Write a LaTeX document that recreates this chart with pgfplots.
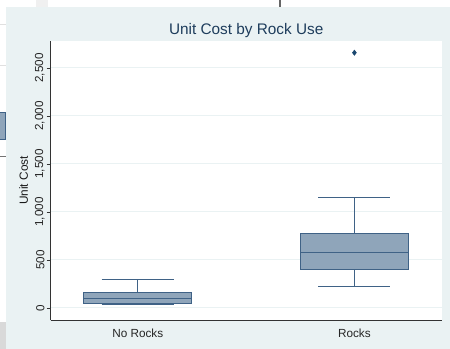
\documentclass[border=0pt]{standalone}
\usepackage{pgfplots}
\pgfplotsset{compat=1.18}
\usepackage{fontspec}
\setmainfont{Liberation Sans}

\definecolor{stbg}{HTML}{EAF2F3}
\definecolor{stgrid}{HTML}{EAF2F3}
\definecolor{stnavy}{HTML}{1A476F}
\definecolor{boxfill}{HTML}{8FA5BA}
\definecolor{boxedge}{HTML}{3F6286}
\definecolor{titlecol}{HTML}{1E3D5C}

% box plot summaries: position, lower whisker, lower quartile, median, upper quartile, upper whisker
% No Rocks: 1, 38, 49, 104, 160, 295
% Rocks:    2, 219, 396, 576, 771, 1156   (outlier at 2659)

\begin{document}
\begin{tikzpicture}
\useasboundingbox (0bp,0bp) rectangle (450bp,349bp);
% window backdrop behind the graph region
\fill[white] (0bp,0bp) rectangle (450bp,349bp);
\fill[black!15] (0bp,0bp) rectangle (6bp,27.3bp);
\fill[black!6] (36bp,342bp) rectangle (48bp,349bp);
\draw[black!60, line width=1.5bp] (280bp,342bp) -- (280bp,349bp);
\draw[black!12] (0bp,325bp) -- (6bp,325bp);
\draw[black!12] (0bp,284bp) -- (6bp,284bp);
\fill[boxfill, draw=boxedge] (-1bp,210bp) rectangle (5bp,237bp);
\draw[black!55, line width=1bp] (0bp,192.3bp) -- (6bp,192.3bp);
% graph region
\fill[stbg] (6bp,0bp) rectangle (450bp,342.3bp);

\begin{axis}[
  at={(50.7bp,29bp)}, anchor=south west,
  scale only axis, width=391bp, height=279bp,
  xmin=0.598, xmax=2.403, ymin=-125, ymax=2781,
  axis x line*=bottom, axis y line*=left,
  axis line style={black!80, line width=0.8bp, -},
  axis background/.style={fill=white},
  xtick={1,2}, xticklabels={No Rocks, Rocks},
  xtick style={draw=none},
  ytick={0,500,1000,1500,2000,2500},
  ytick style={black!80, line width=0.7bp},
  tick align=outside, major tick length=4bp,
  ymajorgrids, grid style={stgrid, line width=1bp},
  scaled y ticks=false,
  /pgf/number format/1000 sep={,},
  /pgf/number format/assume math mode=true,
  yticklabel style={rotate=90, anchor=south, font=\fontsize{11.7}{13}\selectfont, color=black!85, inner sep=2bp},
  xticklabel style={font=\fontsize{11.8}{13}\selectfont, color=black!85, anchor=north, yshift=-1.5bp},
  ylabel={Unit Cost},
  every axis y label/.style={at={(axis description cs:-0.069,0.5)}, rotate=90, anchor=center, font=\fontsize{11.9}{13}\selectfont, color=black!90},
  title={Unit Cost by Rock Use},
  every axis title/.style={at={(axis description cs:0.5,1)}, anchor=base, yshift=6bp, font=\fontsize{15.4}{18}\selectfont, color=titlecol},
  clip=false,
  box/.style={draw=boxedge, fill=boxfill, line width=1bp},
  wsk/.style={draw=boxedge, line width=1bp, no marks},
]
% ---- No Rocks ----
\addplot[wsk] coordinates {(1,160) (1,295)};
\addplot[wsk] coordinates {(1,49) (1,38)};
\addplot[wsk] coordinates {(0.8335,295) (1.1665,295)};
\addplot[wsk] coordinates {(0.8335,38) (1.1665,38)};
\addplot[box] coordinates {(0.75,49) (1.25,49) (1.25,160) (0.75,160)} -- cycle;
\addplot[wsk] coordinates {(0.75,104) (1.25,104)};
% ---- Rocks ----
\addplot[wsk] coordinates {(2,771) (2,1156)};
\addplot[wsk] coordinates {(2,396) (2,219)};
\addplot[wsk] coordinates {(1.8335,1156) (2.1665,1156)};
\addplot[wsk] coordinates {(1.8335,219) (2.1665,219)};
\addplot[box] coordinates {(1.75,396) (2.25,396) (2.25,771) (1.75,771)} -- cycle;
\addplot[wsk] coordinates {(1.75,576) (2.25,576)};
% outside value
\addplot[only marks, mark=diamond*, mark size=2.6bp,
  mark options={fill=stnavy, draw=stnavy, line width=0.5bp}]
  coordinates {(2,2659)};
\end{axis}
\end{tikzpicture}
\end{document}
